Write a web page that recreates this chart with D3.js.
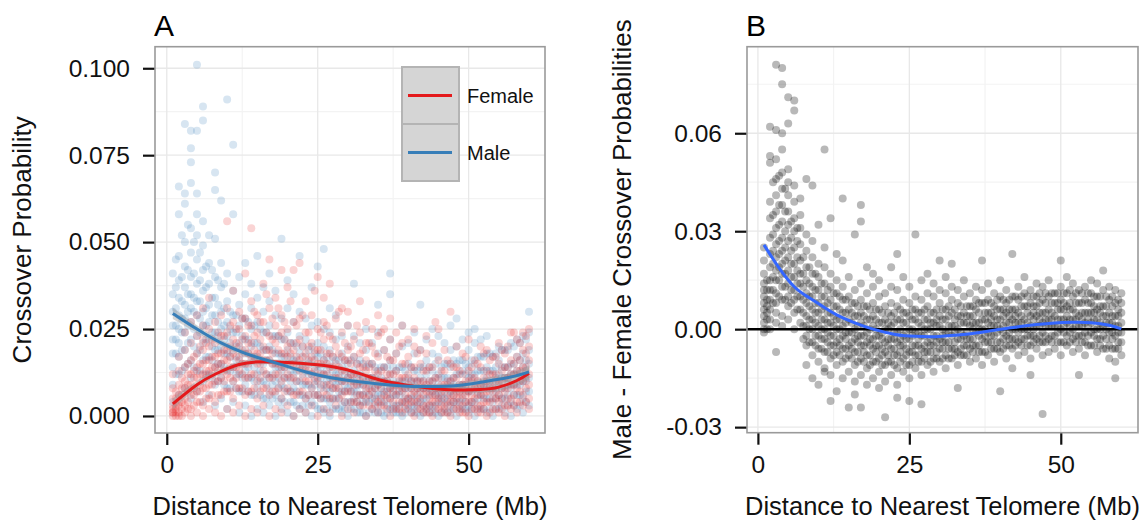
<!DOCTYPE html>
<html>
<head>
<meta charset="utf-8">
<title>Crossover probability vs distance to telomere</title>
<script src="https://cdn.jsdelivr.net/npm/d3@7"></script>
<style>
  body { margin: 0; background: #ffffff; }
  text { font-family: "Liberation Sans", Arial, Helvetica, sans-serif; }
</style>
</head>
<body>
<svg id="mainsvg" width="1145" height="525"></svg>
<script>
// ---- data ----
// x position (Mb) of each column of points
const colX = [1,2,3,4,5,6,7,8,9,10,11,12,13,14,15,16,17,18,19,20,
  21,22,23,24,25,26,27,28,29,30,31,32,33,34,35,36,37,38,39,40,
  41,42,43,44,45,46,47,48,49,50,51,52,53,54,55,56,57,58,59,60];
// in-between columns (the dense core of each cloud)
const colX2 = [1.5,2.5,3.5,4.5,5.5,6.5,7.5,8.5,9.5,10.5,11.5,12.5,13.5,14.5,15.5,16.5,17.5,18.5,19.5,20.5,
  21.5,22.5,23.5,24.5,25.5,26.5,27.5,28.5,29.5,30.5,31.5,32.5,33.5,34.5,35.5,36.5,37.5,38.5,39.5,40.5,
  41.5,42.5,43.5,44.5,45.5,46.5,47.5,48.5,49.5,50.5,51.5,52.5,53.5,54.5,55.5,56.5,57.5,58.5,59.5];

// panel A, female crossover probabilities
const femaleY = [
  [0,.001,.002,.003,.001,.005,.008,.012],
  [0,.001,.003,.004,.006,.009,.013,.017],
  [.001,.003,.005,.008,.010,.014,.019,.024],
  [0,.002,.006,.009,.012,.016,.021,.027],
  [.001,.004,.007,.011,.014,.018,.023,.029],
  [0,.003,.008,.012,.015,.019,.022,.026,.031],
  [.002,.005,.009,.013,.016,.020,.025,.034],
  [.001,.004,.010,.014,.017,.021,.027],
  [0,.006,.011,.015,.018,.023,.029],
  [.002,.007,.012,.016,.019,.024,.031,.056],
  [.001,.005,.010,.014,.018,.022,.027,.036],
  [.003,.008,.013,.016,.020,.025,.030],
  [0,.006,.011,.015,.019,.023,.028,.041],
  [.002,.007,.012,.017,.021,.026,.033,.054],
  [.001,.005,.010,.015,.018,.024,.029],
  [.003,.008,.013,.016,.020,.027,.038],
  [0,.006,.011,.016,.019,.023,.031,.045],
  [.002,.007,.012,.015,.021,.026,.034],
  [.001,.005,.010,.014,.018,.024,.029,.042],
  [.003,.008,.012,.017,.020,.025,.037],
  [0,.006,.011,.015,.019,.027,.042],
  [.002,.007,.013,.016,.022,.028,.044],
  [.001,.005,.010,.014,.018,.024,.033],
  [.003,.008,.012,.017,.021,.029],
  [0,.006,.011,.015,.019,.025,.040],
  [.002,.007,.012,.016,.022,.027,.034],
  [.001,.005,.009,.014,.018,.023,.038],
  [.003,.008,.011,.015,.020,.028],
  [0,.006,.010,.013,.017,.024,.031],
  [.002,.007,.011,.016,.019,.026,.030],
  [.001,.004,.009,.012,.017,.022],
  [.003,.006,.010,.014,.018,.024,.033],
  [0,.005,.008,.013,.016,.021,.027],
  [.002,.007,.011,.015,.020,.025],
  [.001,.004,.009,.012,.017,.023,.029],
  [.003,.006,.010,.014,.019,.025],
  [0,.005,.008,.012,.016,.022,.028],
  [.002,.006,.009,.013,.018,.024],
  [.001,.004,.008,.011,.015,.021,.026],
  [.003,.005,.009,.012,.017,.022],
  [0,.004,.007,.011,.014,.020,.025],
  [.002,.005,.008,.010,.015,.019],
  [.001,.003,.007,.009,.013,.018,.023],
  [0,.004,.006,.010,.014,.021],
  [.002,.005,.008,.011,.016,.025],
  [.001,.003,.007,.009,.013,.019],
  [0,.004,.006,.010,.015,.030],
  [.002,.005,.007,.011,.014,.020],
  [.001,.003,.006,.009,.012,.018],
  [0,.004,.007,.010,.013,.022],
  [.002,.005,.008,.011,.016],
  [.001,.003,.006,.009,.014,.020],
  [0,.004,.007,.010,.013,.019],
  [.002,.005,.008,.012,.017],
  [.001,.004,.006,.010,.015,.021],
  [0,.003,.007,.011,.014,.018],
  [.002,.005,.009,.012,.016,.024],
  [.001,.004,.008,.013,.017,.022],
  [.003,.006,.010,.014,.019,.024],
  [.002,.005,.009,.012,.016,.020,.025]
];
const femaleY2 = [
  [0,.001,.002,.003,.005,.007],
  [0,.002,.004,.006,.008,.011],
  [.002,.004,.007,.009,.012,.015],
  [.003,.006,.008,.011,.013,.017],
  [.004,.007,.009,.012,.015,.020],
  [.005,.008,.011,.013,.016,.021],
  [.006,.009,.012,.014,.017,.022],
  [.006,.010,.013,.015,.018,.024],
  [.007,.010,.013,.016,.019,.023],
  [.007,.011,.014,.017,.020,.026],
  [.008,.011,.014,.017,.021,.025],
  [.008,.012,.015,.018,.022,.028],
  [.007,.011,.015,.018,.021,.026],
  [.008,.012,.016,.019,.023,.030],
  [.007,.011,.015,.018,.022,.027],
  [.008,.012,.016,.019,.024,.035],
  [.007,.011,.015,.018,.022,.028],
  [.008,.012,.015,.019,.023,.031],
  [.007,.011,.014,.018,.022,.027],
  [.007,.011,.015,.018,.021,.033],
  [.006,.010,.014,.017,.021,.026],
  [.007,.011,.014,.017,.020,.029],
  [.006,.010,.013,.016,.020,.024],
  [.006,.010,.013,.016,.019,.036],
  [.005,.009,.012,.015,.019,.024],
  [.006,.009,.012,.015,.018,.026],
  [.005,.008,.011,.014,.017,.022],
  [.005,.008,.011,.014,.018,.030],
  [.004,.007,.010,.013,.016,.021],
  [.004,.007,.010,.012,.015,.020],
  [.004,.006,.009,.012,.015,.026],
  [.003,.006,.009,.011,.014,.019],
  [.003,.006,.008,.011,.014,.021],
  [.003,.005,.008,.010,.013,.018],
  [.003,.005,.008,.010,.013,.024],
  [.002,.005,.007,.010,.012,.017],
  [.002,.004,.007,.009,.012,.016],
  [.002,.004,.007,.009,.011,.020],
  [.002,.004,.006,.008,.011,.015],
  [.001,.004,.006,.008,.010,.014],
  [.002,.004,.006,.008,.010,.018],
  [.001,.003,.006,.008,.010,.013],
  [.001,.003,.005,.007,.010,.014],
  [.002,.004,.006,.008,.011,.027],
  [.001,.003,.005,.007,.009,.013],
  [.001,.003,.005,.008,.010,.016],
  [.002,.004,.006,.008,.011,.014],
  [.001,.003,.005,.007,.009,.013],
  [.001,.004,.006,.008,.010,.017],
  [.002,.004,.006,.008,.011,.014],
  [.001,.003,.006,.008,.010,.015],
  [.002,.004,.006,.009,.011,.018],
  [.001,.004,.007,.009,.012,.016],
  [.002,.005,.007,.010,.012,.017],
  [.002,.005,.008,.010,.013,.019],
  [.003,.005,.008,.011,.014,.020],
  [.003,.006,.009,.012,.015,.024],
  [.004,.007,.010,.013,.016,.021],
  [.004,.008,.011,.014,.018,.023]
];

// panel A, male crossover probabilities
const maleY = [
  [.004,.009,.014,.018,.022,.026,.030,.035,.041],
  [.006,.012,.017,.021,.025,.029,.034,.039,.046,.058,.066],
  [.008,.014,.019,.024,.028,.032,.037,.043,.050,.061,.064,.084],
  [.005,.011,.016,.022,.027,.031,.035,.040,.047,.054,.067,.073,.077,.082],
  [.007,.013,.018,.023,.029,.033,.038,.045,.052,.058,.064,.082,.101],
  [.004,.010,.016,.021,.026,.030,.036,.042,.049,.056,.085,.089],
  [.006,.012,.017,.022,.027,.032,.038,.044,.052],
  [.003,.009,.014,.019,.024,.029,.034,.040,.051,.065,.070],
  [.005,.011,.015,.020,.025,.030,.037,.044,.062],
  [.002,.008,.013,.018,.023,.027,.033,.041,.091],
  [.004,.010,.014,.019,.024,.029,.036,.058,.078],
  [.001,.007,.012,.017,.021,.026,.032,.040],
  [.003,.009,.013,.018,.022,.028,.035,.044],
  [0,.006,.011,.016,.020,.025,.031,.038],
  [.002,.008,.012,.017,.021,.027,.034,.046],
  [.001,.005,.010,.015,.019,.024,.030,.037],
  [.003,.007,.011,.016,.020,.026,.033,.041],
  [0,.006,.010,.014,.018,.023,.029,.036],
  [.002,.005,.009,.013,.017,.022,.028,.051],
  [.001,.007,.011,.015,.019,.024,.031,.039],
  [0,.004,.008,.012,.016,.021,.027,.035],
  [.002,.006,.010,.014,.018,.023,.030,.046],
  [.001,.005,.009,.013,.017,.022,.028],
  [0,.004,.008,.012,.016,.020,.026,.037],
  [.002,.006,.010,.013,.017,.021,.027,.043],
  [.001,.005,.009,.012,.016,.020,.025,.048],
  [0,.004,.007,.011,.015,.019,.024,.031],
  [.002,.005,.009,.012,.016,.022,.029],
  [.001,.003,.007,.010,.014,.018,.023],
  [0,.004,.008,.011,.015,.020,.026],
  [.002,.005,.007,.010,.013,.017,.023,.038],
  [.001,.003,.006,.009,.012,.016,.021],
  [0,.004,.007,.010,.014,.019,.025],
  [.002,.005,.008,.011,.015,.021],
  [.001,.003,.006,.009,.013,.018,.024,.032],
  [0,.004,.007,.010,.014,.019],
  [.002,.005,.008,.012,.016,.022,.035,.041],
  [.001,.003,.006,.009,.013,.018],
  [0,.004,.007,.010,.014,.020,.026],
  [.002,.005,.008,.011,.015,.021],
  [.001,.003,.006,.010,.013,.018,.024],
  [0,.004,.007,.011,.014,.019,.032],
  [.002,.005,.008,.012,.016,.022],
  [.001,.003,.007,.010,.013,.018,.025],
  [0,.004,.006,.009,.012,.017,.023],
  [.002,.005,.008,.011,.015,.021],
  [.001,.003,.007,.010,.014,.019,.026],
  [0,.004,.008,.012,.015,.020,.028],
  [.002,.005,.009,.013,.016,.022],
  [.001,.003,.007,.011,.014,.019,.024],
  [0,.004,.008,.012,.015,.021,.025],
  [.002,.006,.009,.013,.017,.022],
  [.001,.005,.008,.011,.014,.018,.023],
  [0,.004,.007,.010,.013,.017],
  [.002,.006,.009,.012,.016,.020],
  [.001,.005,.008,.011,.014,.019],
  [0,.004,.008,.012,.015,.021],
  [.002,.006,.009,.013,.017,.022],
  [.001,.005,.010,.014,.018,.023],
  [.003,.007,.011,.015,.019,.024,.030]
];
const maleY2 = [
  [.012,.018,.022,.026,.031,.037,.045],
  [.013,.019,.024,.028,.033,.040,.052],
  [.015,.021,.026,.030,.035,.042,.055],
  [.014,.020,.025,.030,.034,.041,.050],
  [.013,.019,.024,.028,.033,.039,.047],
  [.012,.017,.022,.026,.031,.037,.043],
  [.011,.016,.020,.024,.029,.034,.042],
  [.010,.015,.019,.023,.027,.032,.039],
  [.009,.014,.018,.022,.026,.031,.038],
  [.008,.013,.017,.021,.025,.030],
  [.008,.012,.016,.020,.024,.029],
  [.007,.011,.015,.019,.023,.028],
  [.007,.011,.014,.018,.022,.027],
  [.006,.010,.014,.017,.021,.026],
  [.006,.010,.013,.016,.020,.025],
  [.005,.009,.012,.016,.019,.024],
  [.005,.009,.012,.015,.019,.023],
  [.004,.008,.011,.014,.018,.023],
  [.004,.008,.011,.014,.017,.022],
  [.004,.007,.010,.013,.017,.021],
  [.003,.007,.010,.013,.016,.020],
  [.003,.006,.009,.012,.015,.020],
  [.003,.006,.009,.012,.015,.019],
  [.003,.006,.009,.011,.014,.018],
  [.002,.005,.008,.011,.014,.018],
  [.002,.005,.008,.010,.013,.017],
  [.002,.005,.008,.010,.013,.017],
  [.002,.005,.007,.010,.012,.016],
  [.002,.004,.007,.009,.012,.016],
  [.002,.004,.007,.009,.012,.016],
  [.001,.004,.007,.009,.011,.015],
  [.001,.004,.006,.009,.011,.015],
  [.001,.004,.006,.009,.011,.015],
  [.001,.004,.006,.008,.011,.014],
  [.001,.004,.006,.008,.011,.014],
  [.001,.003,.006,.008,.010,.014],
  [.001,.003,.006,.008,.010,.014],
  [.001,.003,.006,.008,.010,.014],
  [.001,.003,.005,.008,.010,.013],
  [.001,.003,.005,.008,.010,.014],
  [.001,.003,.005,.008,.010,.013],
  [.001,.003,.005,.008,.010,.014],
  [.001,.003,.006,.008,.010,.014],
  [.001,.003,.006,.008,.011,.015],
  [.001,.004,.006,.008,.011,.014],
  [.001,.004,.006,.009,.011,.015],
  [.002,.004,.006,.009,.011,.016],
  [.002,.004,.007,.009,.012,.016],
  [.002,.004,.007,.009,.012,.015],
  [.002,.004,.007,.010,.012,.016],
  [.002,.005,.007,.010,.013,.017],
  [.002,.005,.008,.010,.013,.017],
  [.002,.005,.008,.010,.013,.018],
  [.002,.005,.008,.011,.014,.018],
  [.003,.005,.008,.011,.014,.019],
  [.003,.006,.009,.011,.014,.019],
  [.003,.006,.009,.012,.015,.020],
  [.003,.006,.009,.012,.016,.021],
  [.004,.007,.010,.013,.016,.022]
];

// panel B, male minus female
const diffY = [
  [-.001,0,.002,.004,.006,.008,.010,.012,.014,.017,.021,.025],
  [0,.003,.006,.009,.012,.015,.019,.023,.028,.034,.039,.051,.053,.062],
  [.002,.005,.008,.011,.015,.018,.022,.026,.031,.036,.041,.046,.052,.061,.081,-.007],
  [.001,.004,.009,.013,.017,.020,.024,.028,.033,.038,.043,.048,.055,.060,.075,.080],
  [.003,.007,.010,.014,.018,.022,.027,.032,.036,.041,.045,.049,.063,.071],
  [0,.005,.009,.012,.016,.020,.025,.030,.034,.039,.044,.067,.070],
  [.002,.006,.010,.014,.017,.021,.026,.031,.035,.040],
  [-.005,-.002,.001,.004,.008,.011,.015,.019,.024,.029,.046,-.011],
  [-.008,-.004,0,.003,.006,.010,.013,.017,.022,.027,.044,-.015],
  [-.010,-.006,-.002,.001,.005,.008,.012,.016,.020,.032,-.017],
  [-.012,-.007,-.003,0,.003,.007,.010,.014,.019,.025,.055,-.013],
  [-.014,-.009,-.005,-.002,.002,.005,.009,.013,.017,.034,-.022],
  [-.011,-.007,-.004,0,.003,.007,.011,.015,.023,-.019],
  [-.015,-.010,-.006,-.002,.001,.005,.009,.013,.021,.040],
  [-.013,-.008,-.005,-.001,.003,.006,.010,.016,-.024],
  [-.016,-.011,-.007,-.003,0,.004,.008,.012,.029,-.020],
  [-.014,-.009,-.005,-.002,.002,.005,.009,.014,.033,.038,-.024],
  [-.017,-.012,-.008,-.004,-.001,.003,.007,.011,.019],
  [-.015,-.010,-.006,-.003,.001,.004,.008,.013,.017],
  [-.018,-.013,-.009,-.005,-.002,.002,.006,.010,.015],
  [-.016,-.011,-.007,-.004,0,.003,.007,.011,-.027],
  [-.014,-.010,-.006,-.003,.001,.004,.008,.013,.019],
  [-.017,-.012,-.008,-.004,-.001,.003,.007,.012,.023,-.021],
  [-.013,-.009,-.005,-.002,.002,.005,.009,.016],
  [-.015,-.011,-.007,-.003,0,.004,.008,.013,-.022],
  [-.012,-.008,-.005,-.001,.003,.006,.010,.029],
  [-.014,-.010,-.006,-.002,.001,.005,.009,.015,-.023],
  [-.011,-.007,-.004,0,.003,.007,.011,.017],
  [-.013,-.009,-.005,-.002,.002,.005,.010,.014],
  [-.010,-.006,-.003,.001,.004,.008,.012,.021],
  [-.012,-.008,-.004,-.001,.003,.006,.011,.016],
  [-.009,-.006,-.002,.001,.005,.009,.013,.020],
  [-.011,-.007,-.003,0,.004,.008,.012,-.018],
  [-.008,-.005,-.002,.002,.005,.010,.015],
  [-.010,-.006,-.003,.001,.004,.007,.011],
  [-.009,-.005,-.001,.002,.006,.009,.013],
  [-.011,-.007,-.003,0,.003,.008,.012,.021],
  [-.008,-.004,-.001,.002,.005,.009,.014],
  [-.010,-.006,-.002,.001,.004,.007,.011],
  [-.007,-.004,0,.003,.006,.010,.015,-.019],
  [-.009,-.005,-.002,.002,.005,.008,.012],
  [-.006,-.003,0,.003,.006,.010,.023,-.012],
  [-.008,-.004,-.001,.002,.005,.009,.013],
  [-.007,-.003,0,.003,.007,.011,.016],
  [-.009,-.005,-.002,.001,.004,.008,.012,-.014],
  [-.006,-.003,.001,.004,.007,.010,.014],
  [-.008,-.004,-.001,.002,.005,.009,.013,-.026],
  [-.007,-.003,.001,.003,.006,.010,.015],
  [-.006,-.002,.001,.004,.008,.011],
  [-.008,-.004,0,.003,.006,.009,.013,.021],
  [-.005,-.002,.002,.004,.007,.011,.016],
  [-.007,-.003,0,.003,.006,.010,.014],
  [-.006,-.002,.001,.004,.008,.012,-.014],
  [-.008,-.004,-.001,.002,.005,.009,.013],
  [-.005,-.001,.002,.005,.008,.011,.015],
  [-.007,-.003,0,.003,.006,.010,.014],
  [-.006,-.002,.001,.004,.007,.012,.018],
  [-.009,-.005,-.001,.002,.005,.009,.013],
  [-.010,-.006,-.002,.001,.004,.008,.012,-.015],
  [-.008,-.004,-.001,.002,.005,.008,.011]
];
const diffY2 = [
  [0,.003,.005,.007,.009,.012,.015],
  [.008,.012,.016,.020,.024,.029,.035,.045],
  [.010,.015,.019,.023,.027,.032,.038,.047],
  [.009,.013,.017,.021,.025,.030,.036,.043],
  [.008,.012,.016,.020,.024,.028,.033],
  [.006,.010,.014,.018,.022,.027,.031],
  [-.003,.001,.005,.009,.013,.017,.022],
  [-.004,0,.003,.007,.010,.014,.019],
  [-.005,-.002,.002,.005,.008,.012,.017],
  [-.006,-.003,0,.003,.006,.010,.014],
  [-.007,-.004,-.001,.002,.005,.008,.012],
  [-.008,-.005,-.002,.001,.004,.007,.011],
  [-.008,-.005,-.003,0,.003,.006,.010],
  [-.009,-.006,-.003,-.001,.002,.005,.009],
  [-.009,-.006,-.004,-.001,.002,.005,.008],
  [-.010,-.007,-.004,-.002,.001,.004,.007],
  [-.010,-.007,-.005,-.002,.001,.004,.007],
  [-.011,-.008,-.005,-.003,0,.003,.006],
  [-.010,-.007,-.005,-.002,0,.003,.006],
  [-.011,-.008,-.006,-.003,-.001,.002,.005],
  [-.010,-.008,-.005,-.003,0,.002,.005],
  [-.011,-.008,-.006,-.003,-.001,.002,.005],
  [-.010,-.007,-.005,-.003,0,.003,.006],
  [-.011,-.008,-.006,-.003,-.001,.002,.005],
  [-.010,-.007,-.005,-.002,0,.003,.006],
  [-.010,-.008,-.005,-.003,-.001,.002,.005],
  [-.009,-.007,-.005,-.002,0,.003,.006],
  [-.010,-.007,-.005,-.003,0,.002,.005],
  [-.009,-.007,-.004,-.002,.001,.003,.006],
  [-.009,-.006,-.004,-.002,0,.003,.006],
  [-.009,-.006,-.004,-.001,.001,.004,.007],
  [-.008,-.006,-.004,-.001,.001,.003,.006],
  [-.008,-.006,-.003,-.001,.002,.004,.007],
  [-.008,-.005,-.003,-.001,.002,.004,.007],
  [-.007,-.005,-.003,0,.002,.004,.007],
  [-.007,-.005,-.002,0,.002,.005,.008],
  [-.007,-.004,-.002,0,.003,.005,.008],
  [-.006,-.004,-.002,.001,.003,.005,.008],
  [-.006,-.004,-.001,.001,.003,.006,.009],
  [-.006,-.003,-.001,.001,.004,.006,.009],
  [-.005,-.003,-.001,.002,.004,.006,.009],
  [-.005,-.003,0,.002,.004,.006,.010],
  [-.005,-.003,0,.002,.004,.007,.010],
  [-.005,-.002,0,.002,.005,.007,.010],
  [-.004,-.002,0,.003,.005,.007,.010],
  [-.004,-.002,.001,.003,.005,.008,.011],
  [-.004,-.002,.001,.003,.005,.008,.011],
  [-.004,-.002,.001,.003,.005,.008,.011],
  [-.004,-.001,.001,.003,.006,.008,.011],
  [-.004,-.001,.001,.003,.006,.008,.011],
  [-.004,-.001,.001,.003,.006,.008,.012],
  [-.004,-.002,.001,.003,.005,.008,.011],
  [-.004,-.002,.001,.003,.005,.008,.011],
  [-.005,-.002,.001,.003,.005,.008,.011],
  [-.005,-.002,0,.003,.005,.007,.010],
  [-.005,-.003,0,.002,.005,.007,.010],
  [-.006,-.003,0,.002,.004,.007,.010],
  [-.006,-.003,-.001,.002,.004,.007,.010],
  [-.006,-.004,-.001,.001,.004,.006,.009]
];

// smoothed fits and their band half-widths
const femaleFitX = [1,5,8,12,16,20,25,30,34,37,40,44,48,52,55,58,60];
const femaleFitY = [.0035,.009,.012,.0148,.0156,.0154,.0147,.0132,.011,.0097,.0088,.0079,.0075,.0076,.0083,.0102,.0123];
const femaleSe   = [.0016,.0011,.0009,.0008,.0007,.0007,.0007,.0007,.0007,.0007,.0007,.0007,.0008,.0009,.0011,.0014,.0018];
const maleFitX = [1,5,9,13,17,21,25,29,33,37,41,45,49,53,57,60];
const maleFitY = [.0295,.025,.021,.018,.0158,.0137,.0118,.0105,.0096,.0089,.0085,.0085,.0089,.01,.0112,.0127];
const maleSe   = [.0016,.0011,.0009,.0008,.0007,.0007,.0007,.0007,.0007,.0007,.0007,.0008,.0009,.0010,.0013,.0018];
const diffFitX = [1,3.4,6,8.4,10.6,13,16,19,22.7,26,29.3,33,36,39,42.5,46,49,52,55,58,60];
const diffFitY = [.0258,.019,.013,.0097,.0071,.0044,.0019,0,-.0016,-.0022,-.0023,-.0018,-.0012,-.0003,.0006,.0014,.0019,.0021,.002,.0012,.0001];

const seriesNames = ["Female", "Male"];
const seriesColors = ["#E41A1C", "#377EB8"];

const xTicks = [0, 25, 50];
const xTickLabels = ["0", "25", "50"];
const yTicksA = [0, 0.025, 0.05, 0.075, 0.1];
const yTickLabelsA = ["0.000", "0.025", "0.050", "0.075", "0.100"];
const yTicksB = [-0.03, 0, 0.03, 0.06];
const yTickLabelsB = ["-0.03", "0.00", "0.03", "0.06"];

// ---- drawing ----
const svg = d3.select("#mainsvg");
const FONT = '"Liberation Sans", Arial, sans-serif';

const toPoints = (xs, ys) => xs.flatMap((x, i) => ys[i].map((y) => ({ x: x, y: y })));

function makePanel(box, xDomain, yDomain, yTicks, yLabels, yMinor, letter, yTitle, yTitleX) {
  const x = d3.scaleLinear().domain(xDomain).range([box.left, box.right]);
  const y = d3.scaleLinear().domain(yDomain).range([box.bottom, box.top]);
  const g = svg.append("g");

  // minor grid
  g.selectAll(".vminor").data([12.5, 37.5]).join("line")
    .attr("x1", (d) => x(d)).attr("x2", (d) => x(d))
    .attr("y1", box.top).attr("y2", box.bottom)
    .attr("stroke", "#f3f3f3").attr("stroke-width", 1.2);
  g.selectAll(".hminor").data(yMinor).join("line")
    .attr("x1", box.left).attr("x2", box.right)
    .attr("y1", (d) => y(d)).attr("y2", (d) => y(d))
    .attr("stroke", "#f3f3f3").attr("stroke-width", 1.2);
  // major grid
  g.selectAll(".vmajor").data(xTicks).join("line")
    .attr("x1", (d) => x(d)).attr("x2", (d) => x(d))
    .attr("y1", box.top).attr("y2", box.bottom)
    .attr("stroke", "#e8e8e8").attr("stroke-width", 1.3);
  g.selectAll(".hmajor").data(yTicks).join("line")
    .attr("x1", box.left).attr("x2", box.right)
    .attr("y1", (d) => y(d)).attr("y2", (d) => y(d))
    .attr("stroke", "#e8e8e8").attr("stroke-width", 1.3);

  // axes
  const xAxis = d3.axisBottom(x).tickValues(xTicks)
    .tickFormat((d, i) => xTickLabels[i]).tickSize(12).tickPadding(11);
  const yAxis = d3.axisLeft(y).tickValues(yTicks)
    .tickFormat((d, i) => yLabels[i]).tickSize(12).tickPadding(13);
  const gx = g.append("g").attr("transform", `translate(0,${box.bottom})`).call(xAxis);
  const gy = g.append("g").attr("transform", `translate(${box.left},0)`).call(yAxis);
  [gx, gy].forEach((a) => {
    a.select(".domain").remove();
    a.selectAll("line").attr("stroke", "#111").attr("stroke-width", 2.2);
    a.selectAll("text").attr("fill", "#111").style("font-size", "24.5px").style("font-family", FONT);
  });

  // titles
  g.append("text").attr("x", (box.left + box.right) / 2).attr("y", 515)
    .attr("text-anchor", "middle").attr("fill", "#111").style("font-size", "25.5px")
    .text("Distance to Nearest Telomere (Mb)");
  g.append("text")
    .attr("transform", `translate(${yTitleX},${(box.top + box.bottom) / 2}) rotate(-90)`)
    .attr("text-anchor", "middle").attr("fill", "#111").style("font-size", "26px")
    .text(yTitle);
  g.append("text").attr("x", box.left - 1).attr("y", 36)
    .attr("fill", "#000").style("font-size", "30px").text(letter);

  return { g, x, y };
}

// ---------- panel A ----------
const boxA = { left: 155, right: 545, top: 46.7, bottom: 433 };
const A = makePanel(boxA, [-1.95, 62.65], [-0.0049, 0.1062], yTicksA, yTickLabelsA,
  [0.0125, 0.0375, 0.0625, 0.0875], "A", "Crossover Probability", 31);

const maleRows = toPoints(colX, maleY).concat(toPoints(colX2, maleY2));
const femaleRows = toPoints(colX, femaleY).concat(toPoints(colX2, femaleY2));
A.g.append("g").selectAll("circle").data(maleRows).join("circle")
  .attr("cx", (d) => A.x(d.x)).attr("cy", (d) => A.y(d.y))
  .attr("r", 4).attr("fill", seriesColors[1]).attr("fill-opacity", 0.2);
A.g.append("g").selectAll("circle").data(femaleRows).join("circle")
  .attr("cx", (d) => A.x(d.x)).attr("cy", (d) => A.y(d.y))
  .attr("r", 4).attr("fill", seriesColors[0]).attr("fill-opacity", 0.19);

const fits = [
  { xs: femaleFitX, ys: femaleFitY, se: femaleSe, color: seriesColors[0] },
  { xs: maleFitX, ys: maleFitY, se: maleSe, color: seriesColors[1] }
];
fits.forEach((f) => {
  const rows = f.xs.map((xv, i) => ({ x: xv, y: f.ys[i], s: f.se[i] }));
  A.g.append("path").datum(rows)
    .attr("d", d3.area().x((d) => A.x(d.x)).y0((d) => A.y(d.y - d.s)).y1((d) => A.y(d.y + d.s))
      .curve(d3.curveNatural))
    .attr("fill", "#999").attr("fill-opacity", 0.4);
});
fits.forEach((f) => {
  const rows = f.xs.map((xv, i) => ({ x: xv, y: f.ys[i] }));
  A.g.append("path").datum(rows)
    .attr("d", d3.line().x((d) => A.x(d.x)).y((d) => A.y(d.y)).curve(d3.curveNatural))
    .attr("fill", "none").attr("stroke", f.color).attr("stroke-width", 3);
});

A.g.append("rect").attr("x", boxA.left).attr("y", boxA.top)
  .attr("width", boxA.right - boxA.left).attr("height", boxA.bottom - boxA.top)
  .attr("fill", "none").attr("stroke", "#9a9a9a").attr("stroke-width", 1.6);

// legend
const legend = A.g.append("g").attr("transform", "translate(402,67)");
seriesNames.forEach((name, i) => {
  const row = legend.append("g").attr("transform", `translate(0,${i * 57})`);
  row.append("rect").attr("width", 57).attr("height", 57)
    .attr("fill", "#d5d5d5").attr("stroke", "#b4b4b4").attr("stroke-width", 2);
  row.append("line").attr("x1", 6).attr("x2", 50).attr("y1", 28.5).attr("y2", 28.5)
    .attr("stroke", seriesColors[i]).attr("stroke-width", 3);
  row.append("text").attr("x", 65).attr("y", 28.5).attr("dy", "0.36em")
    .attr("fill", "#111").style("font-size", "20px").text(name);
});

// ---------- panel B ----------
const boxB = { left: 747, right: 1138, top: 46.7, bottom: 432.7 };
const B = makePanel(boxB, [-1.8, 62.75], [-0.0317, 0.0865], yTicksB, yTickLabelsB,
  [-0.015, 0.015, 0.045, 0.075], "B", "Male - Female Crossover Probabilities", 631);

const diffRows = toPoints(colX, diffY).concat(toPoints(colX2, diffY2));
B.g.append("g").selectAll("circle").data(diffRows).join("circle")
  .attr("cx", (d) => B.x(d.x)).attr("cy", (d) => B.y(d.y))
  .attr("r", 4).attr("fill", "#000").attr("fill-opacity", 0.28);

B.g.append("line").attr("x1", boxB.left).attr("x2", boxB.right)
  .attr("y1", B.y(0)).attr("y2", B.y(0))
  .attr("stroke", "#000").attr("stroke-width", 2.5);

B.g.append("path").datum(diffFitX.map((xv, i) => ({ x: xv, y: diffFitY[i] })))
  .attr("d", d3.line().x((d) => B.x(d.x)).y((d) => B.y(d.y)).curve(d3.curveNatural))
  .attr("fill", "none").attr("stroke", "#3366FF").attr("stroke-width", 3);

B.g.append("rect").attr("x", boxB.left).attr("y", boxB.top)
  .attr("width", boxB.right - boxB.left).attr("height", boxB.bottom - boxB.top)
  .attr("fill", "none").attr("stroke", "#9a9a9a").attr("stroke-width", 1.6);
</script>
</body>
</html>
